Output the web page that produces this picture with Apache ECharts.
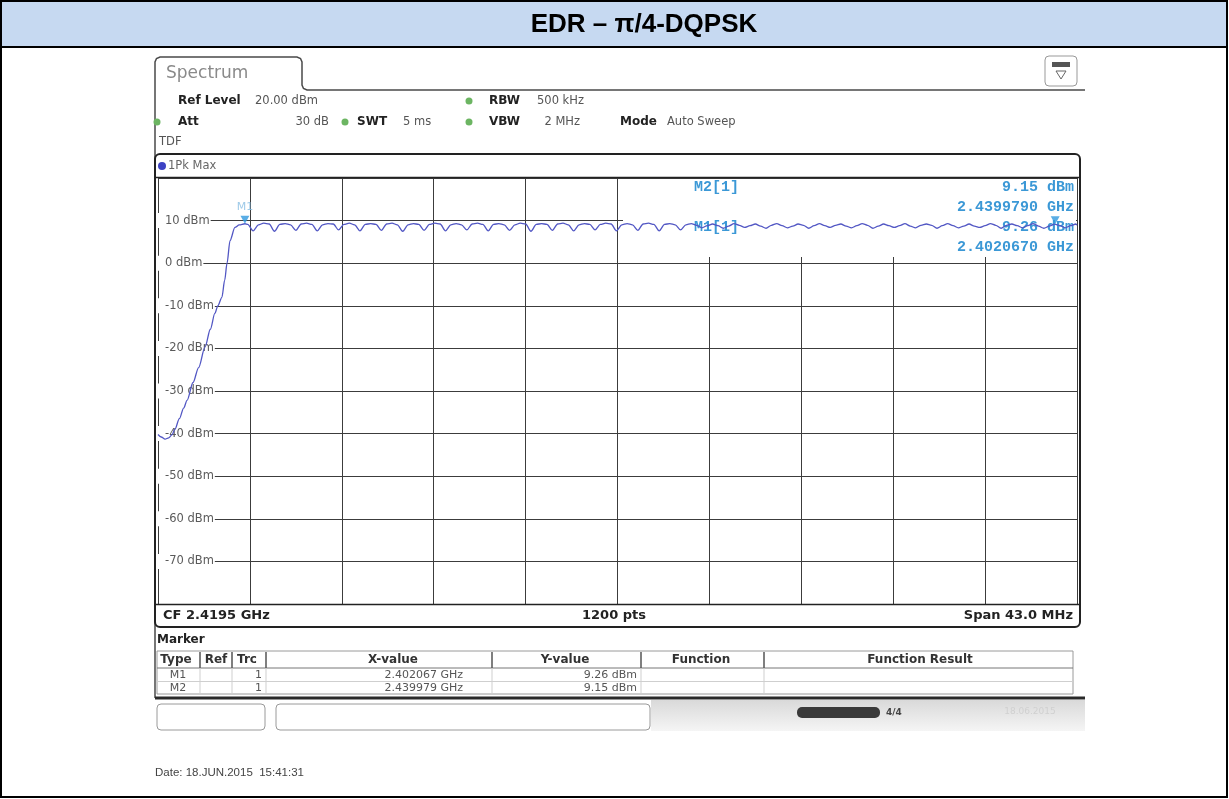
<!DOCTYPE html>
<html>
<head>
<meta charset="utf-8">
<title>EDR – π/4-DQPSK</title>
<script src="https://cdn.jsdelivr.net/npm/echarts@6.0.0/dist/echarts.min.js"></script>
<style>
  html, body { margin: 0; padding: 0; background: #fff; }
  #chart { width: 1229px; height: 799px; }
</style>
</head>
<body>
<div id="chart"></div>
<script>
// sweep settings
const spanStartGHz = 2.398
const spanStopGHz = 2.441
const levelMinDbm = -80
const levelMaxDbm = 20
const levelStepDbm = 10
const divisions = 10

// rising edge of the trace
const riseFreqGHz = [
  2.39800, 2.39815, 2.39833, 2.39850, 2.39865, 2.39879, 2.39900, 2.39920,
  2.39936, 2.39964, 2.39990, 2.40020, 2.40045, 2.40066, 2.40080, 2.40099,
  2.40112, 2.40123, 2.40137, 2.40160, 2.40180, 2.40207
]
const riseLevelDbm = [
  -40.2, -40.8, -41.3, -41.0, -40.3, -39.0, -36.5, -34.0,
  -32.2, -28.0, -24.5, -19.7, -15.5, -11.8, -10.0, -8.0,
  -4.0, 0.0, 5.3, 8.4, 9.0, 9.26
]

// flat top with ripple, one row per MHz
const rippleFreqGHz = [
  2.40220, 2.40245, 2.40270, 2.40295,
  2.40320, 2.40345, 2.40370, 2.40395,
  2.40420, 2.40445, 2.40470, 2.40495,
  2.40520, 2.40545, 2.40570, 2.40595,
  2.40620, 2.40645, 2.40670, 2.40695,
  2.40720, 2.40745, 2.40770, 2.40795,
  2.40820, 2.40845, 2.40870, 2.40895,
  2.40920, 2.40945, 2.40970, 2.40995,
  2.41020, 2.41045, 2.41070, 2.41095,
  2.41120, 2.41145, 2.41170, 2.41195,
  2.41220, 2.41245, 2.41270, 2.41295,
  2.41320, 2.41345, 2.41370, 2.41395,
  2.41420, 2.41445, 2.41470, 2.41495,
  2.41520, 2.41545, 2.41570, 2.41595,
  2.41620, 2.41645, 2.41670, 2.41695,
  2.41720, 2.41745, 2.41770, 2.41795,
  2.41820, 2.41845, 2.41870, 2.41895,
  2.41920, 2.41945, 2.41970, 2.41995,
  2.42020, 2.42045, 2.42070, 2.42095,
  2.42120, 2.42145, 2.42170, 2.42195,
  2.42220, 2.42245, 2.42270, 2.42295,
  2.42320, 2.42345, 2.42370, 2.42395,
  2.42420, 2.42445, 2.42470, 2.42495,
  2.42520, 2.42545, 2.42570, 2.42595,
  2.42620, 2.42645, 2.42670, 2.42695,
  2.42720, 2.42745, 2.42770, 2.42795,
  2.42820, 2.42845, 2.42870, 2.42895,
  2.42920, 2.42945, 2.42970, 2.42995,
  2.43020, 2.43045, 2.43070, 2.43095,
  2.43120, 2.43145, 2.43170, 2.43195,
  2.43220, 2.43245, 2.43270, 2.43295,
  2.43320, 2.43345, 2.43370, 2.43395,
  2.43420, 2.43445, 2.43470, 2.43495,
  2.43520, 2.43545, 2.43570, 2.43595,
  2.43620, 2.43645, 2.43670, 2.43695,
  2.43720, 2.43745, 2.43770, 2.43795,
  2.43820, 2.43845, 2.43870, 2.43895,
  2.43920, 2.43945, 2.43970, 2.43995,
  2.44020, 2.44045, 2.44070, 2.44095,
  2.44100
]
const rippleLevelDbm = [
  9.1, 7.6, 9.0, 9.4,
  9.2, 7.5, 9.1, 9.3,
  9.0, 7.7, 9.2, 9.4,
  9.1, 7.6, 9.0, 9.3,
  9.2, 7.8, 9.1, 9.4,
  9.0, 7.6, 9.1, 9.3,
  9.1, 7.7, 9.2, 9.4,
  9.0, 7.5, 9.0, 9.3,
  9.1, 7.7, 9.1, 9.4,
  9.2, 7.6, 9.0, 9.3,
  9.0, 7.8, 9.2, 9.4,
  9.1, 7.6, 9.1, 9.3,
  9.0, 7.7, 9.0, 9.4,
  9.2, 7.5, 9.1, 9.3,
  9.1, 7.7, 9.2, 9.4,
  9.0, 7.6, 9.0, 9.3,
  9.1, 7.8, 9.1, 9.4,
  9.2, 7.6, 9.0, 9.3,
  9.0, 7.7, 9.2, 9.4,
  9.1, 7.6, 9.1, 9.3,
  9.0, 7.8, 9.0, 9.3,
  8.9, 8.3, 8.8, 9.2,
  8.8, 8.2, 8.7, 9.3,
  8.9, 8.4, 8.8, 9.2,
  8.7, 8.2, 8.9, 9.3,
  8.8, 8.3, 8.7, 9.2,
  8.9, 8.2, 8.8, 9.3,
  8.8, 8.4, 8.9, 9.2,
  8.7, 8.3, 8.8, 9.3,
  8.9, 8.2, 8.7, 9.2,
  8.8, 8.4, 8.8, 9.3,
  8.7, 8.3, 8.9, 9.2,
  8.9, 8.2, 8.8, 9.3,
  8.8, 8.3, 8.7, 9.2,
  8.7, 8.4, 8.8, 9.3,
  8.9, 8.2, 8.9, 9.2,
  8.8, 8.3, 8.8, 9.3,
  8.7, 8.2, 8.7, 9.15,
  8.8, 8.3, 8.8, 9.2,
  8.9
]

// markers
const markerNames = ['M1', 'M2']
const markerFreqGHz = [2.402067, 2.439979]
const markerLevelDbm = [9.26, 9.15]

const chart = echarts.init(document.getElementById('chart'))

const traceData = riseFreqGHz.map((f, i) => [f, riseLevelDbm[i]])
  .concat(rippleFreqGHz.map((f, i) => [f, rippleLevelDbm[i]]))

const markerData = markerNames.map((n, i) => ({
  name: n,
  value: [markerFreqGHz[i], markerLevelDbm[i]],
  label: { show: i === 0 }
}))

const FONT = '"DejaVu Sans", Verdana, sans-serif'
const MONO = '"Liberation Mono", "Courier New", monospace'
const MARK = '#3b98d6'

const g = []
const text = (x, y, s, font, fill, align, z) => g.push({
  type: 'text', z: z == null ? 10 : z, silent: true,
  style: { x, y, text: s, font, fill, textAlign: align || 'left', textVerticalAlign: 'middle' }
})
const line = (x1, y1, x2, y2, stroke, w, z) => g.push({
  type: 'line', z: z == null ? 10 : z, silent: true,
  shape: { x1, y1, x2, y2 }, style: { stroke, lineWidth: w || 1 }
})
const box = (x, y, w, h, style, r, z) => g.push({
  type: 'rect', z: z == null ? 10 : z, silent: true,
  shape: { x, y, width: w, height: h, r: r || 0 }, style
})
const dot = (cx, cy, r, fill) => g.push({
  type: 'circle', z: 11, silent: true, shape: { cx, cy, r }, style: { fill }
})

// page frame and title band
box(1, 1, 1226, 46, { fill: '#c6d9f1', stroke: '#000', lineWidth: 2 }, 0, 0)
box(1, 1, 1226, 796, { fill: 'none', stroke: '#000', lineWidth: 2 }, 0, 20)
text(644, 25, 'EDR – π/4-DQPSK', 'bold 26px "Liberation Sans", Arial, sans-serif', '#000', 'center')

// spectrum tab and screen outline
g.push({
  type: 'polyline', z: 10, silent: true,
  shape: { points: [[155, 698], [155, 62], [156.5, 58.5], [160, 57], [297, 57], [300.5, 58.5], [302, 62],
    [302, 85], [303.5, 88.5], [307, 90], [1085, 90]] },
  style: { fill: 'none', stroke: '#4a4a4a', lineWidth: 1.5 }
})
text(166, 74, 'Spectrum', '17px ' + FONT, '#8a8a8a')

// preset icon top right
box(1045, 56, 32, 30, { fill: '#fff', stroke: '#999', lineWidth: 1 }, 4)
box(1052, 62, 18, 5, { fill: '#555' })
g.push({
  type: 'polygon', z: 11, silent: true,
  shape: { points: [[1056, 71], [1066, 71], [1061, 79]] },
  style: { fill: 'none', stroke: '#666', lineWidth: 1 }
})

// settings block
const B = 'bold 12px ' + FONT
const N = '11.5px ' + FONT
text(178, 101, 'Ref Level', B, '#222')
text(255, 101, '20.00 dBm', N, '#555')
dot(469, 101, 3.5, '#6cb562')
text(520, 101, 'RBW', B, '#222', 'right')
text(537, 101, '500 kHz', N, '#555')
dot(157, 122, 3.5, '#6cb562')
text(178, 122, 'Att', B, '#222')
text(329, 122, '30 dB', N, '#555', 'right')
dot(345, 122, 3.5, '#6cb562')
text(357, 122, 'SWT', B, '#222')
text(403, 122, '5 ms', N, '#555')
dot(469, 122, 3.5, '#6cb562')
text(520, 122, 'VBW', B, '#222', 'right')
text(580, 122, '2 MHz', N, '#555', 'right')
text(620, 122, 'Mode', B, '#222')
text(667, 122, 'Auto Sweep', N, '#555')
text(159, 142, 'TDF', N, '#555')

// plot frame
box(155, 154, 925, 473, { fill: 'none', stroke: '#222', lineWidth: 2 }, 5)
line(156, 177.5, 1079, 177.5, '#222', 1.5)
line(156, 604.5, 1079, 604.5, '#222', 1.5)
dot(162, 166, 4, '#3d43c4')
text(168, 166, '1Pk Max', '11.5px ' + FONT, '#666')

// marker readout (under the trace)
box(623, 179, 453, 78, { fill: '#fff' }, 0, 1)
const MF = 'bold 15px ' + MONO
text(694, 187, 'M2[1]', MF, MARK, 'left', 1)
text(1074, 187, markerLevelDbm[1].toFixed(2) + ' dBm', MF, MARK, 'right', 1)
text(1074, 207, markerFreqGHz[1].toFixed(7) + ' GHz', MF, MARK, 'right', 1)
text(694, 227, 'M1[1]', MF, MARK, 'left', 1)
text(1074, 227, markerLevelDbm[0].toFixed(2) + ' dBm', MF, MARK, 'right', 1)
text(1074, 247, markerFreqGHz[0].toFixed(7) + ' GHz', MF, MARK, 'right', 1)

// footer of the plot
const FB = 'bold 13px ' + FONT
text(163, 616, 'CF ' + ((spanStartGHz + spanStopGHz) / 2).toFixed(4) + ' GHz', FB, '#222')
text(614, 616, '1200 pts', FB, '#222', 'center')
text(1073, 616, 'Span ' + ((spanStopGHz - spanStartGHz) * 1000).toFixed(1) + ' MHz', FB, '#222', 'right')

// marker table
text(157, 640, 'Marker', 'bold 12px ' + FONT, '#222')
const cols = [157, 200, 232, 266, 492, 641, 764, 1073]
const heads = ['Type', 'Ref', 'Trc', 'X-value', 'Y-value', 'Function', 'Function Result']
const headX = [176, 216, 247, 393, 565, 701, 920]
box(157, 651, 916, 43, { fill: '#fff', stroke: '#9a9a9a', lineWidth: 1 }, 0, 9)
line(157, 668, 1073, 668, '#777', 1)
line(157, 681.5, 1073, 681.5, '#cfcfcf', 1)
cols.slice(1, -1).forEach(x => {
  line(x, 652, x, 668, '#555', 1.5)
  line(x, 668, x, 694, '#cfcfcf', 1)
})
heads.forEach((h, i) => text(headX[i], 660, h, 'bold 12px ' + FONT, '#333', 'center'))
const R = '11px ' + FONT
markerNames.forEach((n, i) => {
  const y = 675 + i * 13
  text(178, y, n, R, '#555', 'center')
  text(262, y, '1', R, '#555', 'right')
  text(463, y, markerFreqGHz[i].toFixed(6) + ' GHz', R, '#555', 'right')
  text(637, y, markerLevelDbm[i].toFixed(2) + ' dBm', R, '#555', 'right')
})
line(155, 698, 1085, 698, '#2a2a2a', 3)

// softkey strip
box(157, 704, 108, 26, { fill: '#fff', stroke: '#9a9a9a', lineWidth: 1 }, 4)
box(276, 704, 374, 26, { fill: '#fff', stroke: '#9a9a9a', lineWidth: 1 }, 4)
box(651, 700, 434, 31, {
  fill: new echarts.graphic.LinearGradient(0, 0, 0, 1, [
    { offset: 0, color: '#d9d9d9' },
    { offset: 1, color: '#f5f5f5' }
  ])
}, 0, 8)
box(797, 707, 83, 11, { fill: '#3a3a3a' }, 5)
text(886, 713, '4/4', 'bold 9px ' + FONT, '#444')
text(1030, 712, '18.06.2015', '9px ' + FONT, '#d0d0d0', 'center')

text(155, 773, 'Date: 18.JUN.2015  15:41:31', '11.5px "Liberation Sans", Arial, sans-serif', '#444')

const gridLine = { show: true, lineStyle: { color: '#3c3c3c', width: 1 } }

chart.setOption({
  animation: false,
  backgroundColor: '#fff',
  grid: { left: 158, top: 178, width: 919, height: 426, outerBoundsMode: 'none' },
  xAxis: [
    { type: 'value', min: spanStartGHz, max: spanStopGHz, show: false },
    {
      type: 'value', min: 0, max: divisions, interval: 1,
      axisLine: { show: false }, axisTick: { show: false }, axisLabel: { show: false },
      splitLine: gridLine
    }
  ],
  yAxis: [
    {
      type: 'value', min: levelMinDbm, max: levelMaxDbm, interval: levelStepDbm, position: 'left',
      axisLine: { show: false }, axisTick: { show: false }, axisLabel: { show: false },
      splitLine: gridLine
    },
    {
      type: 'value', min: levelMinDbm, max: levelMaxDbm, interval: levelStepDbm, position: 'left', z: 1,
      axisLine: { show: false }, axisTick: { show: false }, splitLine: { show: false },
      axisLabel: {
        inside: true, margin: 0, showMinLabel: false, showMaxLabel: false,
        formatter: v => v + ' dBm',
        color: '#5a5a5a', fontFamily: 'DejaVu Sans', fontSize: 11.5,
        backgroundColor: '#fff', padding: [2, 1, 1, 7]
      }
    }
  ],
  graphic: { elements: g },
  series: [
    {
      type: 'line', xAxisIndex: 0, yAxisIndex: 0, data: traceData,
      symbol: 'none', smooth: 0.3, smoothMonotone: 'x', silent: true, z: 5,
      lineStyle: { color: '#5257c4', width: 1.3 }
    },
    {
      type: 'scatter', xAxisIndex: 0, yAxisIndex: 0, data: markerData, z: 6,
      symbol: 'triangle', symbolRotate: 180, symbolSize: [9, 8], symbolOffset: [0, -4],
      itemStyle: { color: '#2f98de' },
      label: {
        position: 'top', distance: 3, formatter: p => p.name,
        color: '#86bde2', fontSize: 11, fontFamily: 'DejaVu Sans'
      }
    }
  ]
})

window.addEventListener('resize', () => chart.resize())
</script>
</body>
</html>
